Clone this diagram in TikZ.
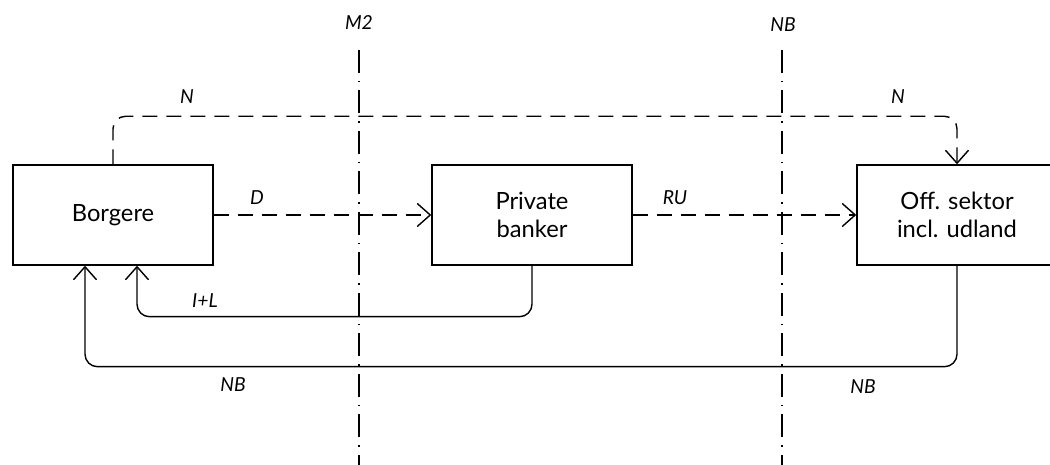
\documentclass[tikz,border=0pt]{standalone}
\usepackage{fontspec}
\setmainfont{Lato}
\usetikzlibrary{arrows.meta}

\tikzset{
  box/.style={draw, line width=0.8pt, minimum width=4cm, minimum height=2cm,
    align=center, font=\fontsize{13.5}{16}\selectfont},
  flow/.style={line width=0.8pt, -{Straight Barb[length=2.6mm,width=4.6mm]}},
  money/.style={flow, dash pattern=on 3mm off 1.8mm},
  border/.style={line width=0.8pt, dash pattern=on 4.6mm off 1.6mm on 0.3mm off 1.6mm},
  lbl/.style={font=\fontsize{11}{13}\selectfont\itshape}
}

\begin{document}
\begin{tikzpicture}
  \useasboundingbox (0,0) rectangle (21,9.3);
  \node[box] (Bg) at (2.26,5) {Borgere};
  \node[box] (Pb) at (10.64,5) {Private\\banker};
  \node[box] (Os) at (19.14,5) {Off. sektor\\incl. udland};
  \coordinate (Mt) at (7.18,8.3);
  \coordinate (Mb) at (7.18,0);
  \coordinate (Nt) at (15.64,8.3);
  \coordinate (Nb) at (15.64,0);
  \draw[border] (Mt) -- (Mb);
  \draw[border] (Nt) -- (Nb);
  \draw[money, rounded corners=2.5mm] (Bg.north) -- ([yshift=0.96cm]Bg.north) -| (Os.north);
  \draw[money] (Bg) -- (Pb);
  \draw[money] (Pb) -- (Os);
  \draw[flow, rounded corners=2.5mm] (Pb.south) -- ++(0,-1.02) -| ([xshift=0.48cm]Bg.south);
  \draw[flow, rounded corners=2.5mm] (Os.south) -- ++(0,-2.02) -| ([xshift=-0.56cm]Bg.south);
  \node[lbl] (m2) at (7.18,8.85) {M2};
  \node[lbl] (nb) at (15.66,8.8) {NB};
  \node[lbl] (n1) at (3.74,7.36) {N};
  \node[lbl] (n2) at (17.96,7.36) {N};
  \node[lbl] (d) at (5.14,5.34) {D};
  \node[lbl] (ru) at (13.5,5.34) {RU};
  \node[lbl] (il) at (4.1,3.28) {I+L};
  \node[lbl] (nb1) at (4.66,1.6) {NB};
  \node[lbl] (nb2) at (17.26,1.56) {NB};
\end{tikzpicture}
\end{document}
